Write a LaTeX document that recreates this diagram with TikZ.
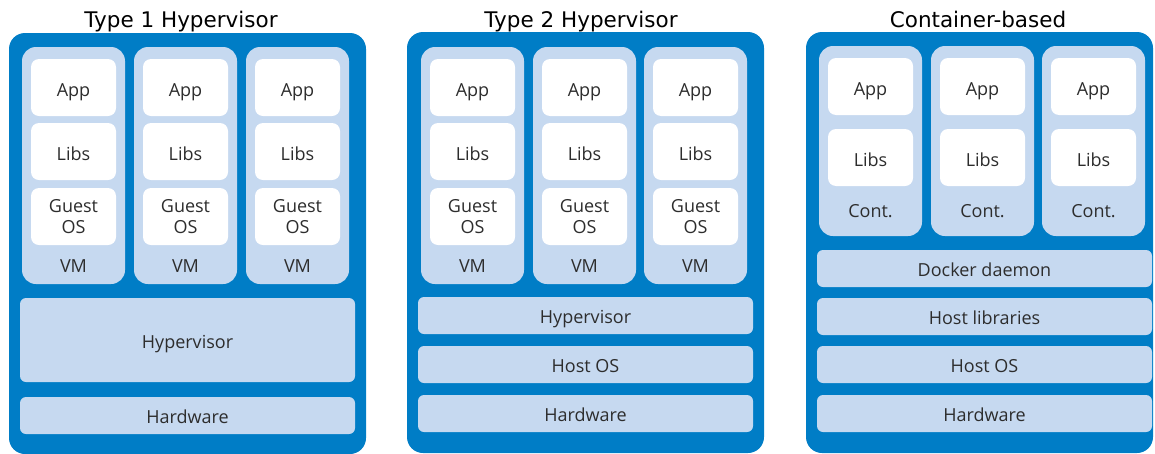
\documentclass[tikz,border=0pt]{standalone}
\usepackage{fontspec}
\setmainfont{Open Sans}
\newfontfamily\headfont{DejaVu Sans}
\usetikzlibrary{positioning}

\definecolor{dellblue}{RGB}{0,125,198}
\definecolor{paleblue}{RGB}{198,217,240}
\definecolor{labelgray}{RGB}{45,45,45}

\begin{document}
\begin{tikzpicture}[
  x=1pt, y=-1pt,
  every node/.style={inner sep=0pt, outer sep=0pt},
  node distance=12pt,
  heading/.style={font=\headfont\fontsize{21.5}{23}\selectfont, text=black, anchor=base},
  panel/.style={fill=dellblue, rounded corners=16pt, anchor=north west, minimum width=357pt, minimum height=421pt},
  vmbox/.style={fill=paleblue, rounded corners=14pt, anchor=north west, minimum width=103pt, minimum height=237pt},
  part/.style={fill=white, rounded corners=8pt, minimum width=85pt, minimum height=57pt, align=center, text=labelgray, font=\fontsize{18}{21}\selectfont},
  oneline/.style={text height=18.5pt, text depth=0pt},
  tag/.style={text=labelgray, font=\fontsize{18}{21}\selectfont},
  layer/.style={fill=paleblue, rounded corners=6pt, minimum width=335pt, minimum height=37pt, text height=16.5pt, text depth=0pt, text=labelgray, font=\fontsize{18}{21}\selectfont},
]
\useasboundingbox (0,0) rectangle (1155,453);

% Type 1
\node[heading] (titlea) at (181,27) {Type 1 Hypervisor};
\node[panel] (panela) at (9,33) {};
\foreach \i/\x in {1/22,2/134,3/246} {
  \node[vmbox] (vma\i) at (\x,47) {};
  \node[part, oneline, below=12pt of vma\i.north] (appa\i) {App};
  \node[part, oneline, below=7pt of appa\i] (libsa\i) {Libs};
  \node[part, below=8pt of libsa\i] (guesta\i) {Guest\\OS};
  \node[tag, above=12pt of vma\i.south] (vmtaga\i) {VM};
}
\node[layer, minimum height=84pt, anchor=north west] (hypa) at (20,298) {Hypervisor};
\node[layer, below=15pt of hypa] (hwa) {Hardware};

% Type 2
\node[heading] (titleb) at (581,27) {Type 2 Hypervisor};
\node[panel] (panelb) at (407,32) {};
\foreach \i/\x in {1/421,2/533,3/644} {
  \node[vmbox] (vmb\i) at (\x,47) {};
  \node[part, oneline, below=12pt of vmb\i.north] (appb\i) {App};
  \node[part, oneline, below=7pt of appb\i] (libsb\i) {Libs};
  \node[part, below=8pt of libsb\i] (guestb\i) {Guest\\OS};
  \node[tag, above=12pt of vmb\i.south] (vmtagb\i) {VM};
}
\node[layer, anchor=north west] (hypb) at (418,297) {Hypervisor};
\node[layer, below=of hypb] (hostb) {Host OS};
\node[layer, below=of hostb] (hwb) {Hardware};

% Containers
\node[heading] (titlec) at (978,27) {Container-based};
\node[panel, minimum width=347pt] (panelc) at (806,32) {};
\foreach \i/\x in {1/819,2/931,3/1042} {
  \node[vmbox, minimum height=190pt] (contc\i) at (\x,46) {};
  \node[part, oneline, below=12pt of contc\i.north] (appc\i) {App};
  \node[part, oneline, below=14pt of appc\i] (libsc\i) {Libs};
  \node[tag, above=18pt of contc\i.south] (conttagc\i) {Cont.};
}
\node[layer, anchor=north west] (dockerc) at (817,250) {Docker daemon};
\node[layer, below=11pt of dockerc] (hostlibc) {Host libraries};
\node[layer, below=11pt of hostlibc] (hostc) {Host OS};
\node[layer, below=of hostc] (hwc) {Hardware};
\end{tikzpicture}
\end{document}
